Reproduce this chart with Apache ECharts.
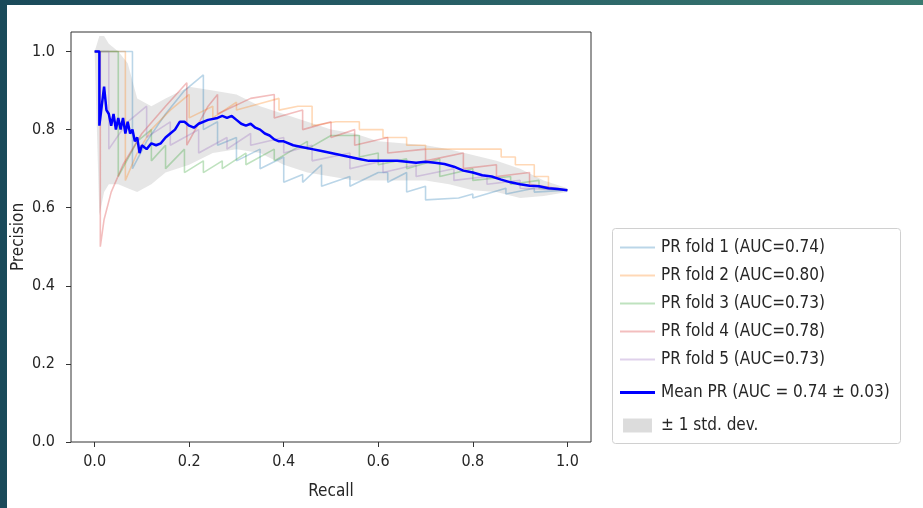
<!DOCTYPE html>
<html>
<head>
<meta charset="utf-8">
<script src="https://cdn.jsdelivr.net/npm/echarts@6/dist/echarts.min.js"></script>
<style>
  html, body { margin: 0; padding: 0; }
  body { width: 923px; height: 508px; position: relative; overflow: hidden;
         background: linear-gradient(90deg, #1a4a5a 0%, #245a64 40%, #3a7a70 100%); }
  #paper { position: absolute; left: 7px; top: 5px; right: 0; bottom: 0; background: #ffffff; }
  #chart { position: absolute; left: 0; top: 0; width: 923px; height: 508px; }
</style>
</head>
<body>
<div id="paper"></div>
<div id="chart"></div>
<script>
// ---- data ----
const xTicks = [0, 0.2, 0.4, 0.6, 0.8, 1.0];
const yTicks = [0, 0.2, 0.4, 0.6, 0.8, 1.0];

const foldNames = [
  'PR fold 1 (AUC=0.74)',
  'PR fold 2 (AUC=0.80)',
  'PR fold 3 (AUC=0.73)',
  'PR fold 4 (AUC=0.78)',
  'PR fold 5 (AUC=0.73)'
];
const meanName = 'Mean PR (AUC = 0.74 ± 0.03)';
const stdName = '± 1 std. dev.';

const fold1Recall = [0,0.08,0.08,0.11,0.15,0.19,0.23,0.23,0.26,0.26,0.30,0.30,0.35,0.35,0.40,0.40,0.44,0.44,0.48,0.48,0.54,0.54,0.60,0.62,0.62,0.66,0.66,0.70,0.70,0.77,0.80,0.80,0.87,0.87,0.93,0.93,1.0];
const fold1Precision = [1,1,0.70,0.77,0.84,0.90,0.94,0.80,0.82,0.76,0.78,0.72,0.75,0.70,0.73,0.665,0.685,0.665,0.71,0.655,0.68,0.655,0.69,0.69,0.665,0.69,0.64,0.655,0.62,0.625,0.635,0.625,0.65,0.635,0.65,0.64,0.645];

const fold2Recall = [0,0.065,0.065,0.09,0.12,0.16,0.20,0.20,0.25,0.25,0.30,0.30,0.36,0.39,0.39,0.43,0.46,0.46,0.51,0.56,0.56,0.61,0.61,0.66,0.66,0.70,0.70,0.78,0.86,0.86,0.89,0.89,0.93,0.93,0.96,0.96,1.0];
const fold2Precision = [1,1,0.67,0.74,0.80,0.85,0.89,0.83,0.86,0.83,0.87,0.85,0.87,0.88,0.85,0.86,0.86,0.81,0.82,0.82,0.80,0.80,0.78,0.78,0.76,0.76,0.75,0.75,0.75,0.73,0.73,0.71,0.71,0.68,0.68,0.65,0.645];

const fold3Recall = [0,0.05,0.05,0.09,0.12,0.12,0.15,0.15,0.19,0.19,0.23,0.23,0.27,0.27,0.32,0.32,0.38,0.38,0.45,0.45,0.50,0.56,0.56,0.60,0.60,0.66,0.66,0.73,0.73,0.80,0.80,0.88,0.88,0.94,0.94,1.0];
const fold3Precision = [1,1,0.68,0.77,0.80,0.72,0.76,0.70,0.75,0.69,0.72,0.69,0.72,0.70,0.74,0.71,0.75,0.72,0.77,0.75,0.785,0.785,0.73,0.74,0.71,0.725,0.70,0.725,0.68,0.70,0.67,0.68,0.66,0.67,0.65,0.645];

const fold4Recall = [0,0.012,0.012,0.02,0.035,0.06,0.10,0.15,0.195,0.195,0.24,0.26,0.26,0.33,0.38,0.38,0.44,0.44,0.50,0.50,0.55,0.55,0.62,0.62,0.70,0.70,0.78,0.78,0.85,0.85,0.92,0.92,1.0];
const fold4Precision = [1,1,0.50,0.57,0.64,0.71,0.79,0.86,0.92,0.76,0.86,0.89,0.84,0.88,0.89,0.83,0.85,0.80,0.82,0.78,0.80,0.76,0.78,0.74,0.75,0.72,0.74,0.70,0.71,0.68,0.69,0.66,0.645];

const fold5Recall = [0,0.03,0.03,0.07,0.11,0.11,0.16,0.16,0.22,0.22,0.28,0.28,0.33,0.33,0.40,0.40,0.46,0.46,0.54,0.54,0.61,0.61,0.68,0.68,0.76,0.76,0.83,0.83,0.90,0.90,1.0];
const fold5Precision = [1,1,0.75,0.82,0.86,0.78,0.82,0.76,0.80,0.74,0.78,0.75,0.79,0.76,0.78,0.74,0.76,0.72,0.74,0.70,0.72,0.69,0.71,0.68,0.70,0.67,0.68,0.66,0.67,0.65,0.645];

const meanRecall = [0,0.01,0.01,0.015,0.02,0.025,0.03,0.035,0.04,0.045,0.05,0.055,0.06,0.065,0.07,0.075,0.08,0.085,0.09,0.095,0.10,0.11,0.12,0.13,0.14,0.15,0.16,0.17,0.18,0.19,0.20,0.21,0.22,0.24,0.26,0.27,0.28,0.29,0.30,0.31,0.32,0.33,0.34,0.35,0.36,0.37,0.38,0.39,0.40,0.42,0.44,0.46,0.48,0.50,0.52,0.54,0.56,0.58,0.60,0.62,0.64,0.66,0.68,0.70,0.72,0.74,0.76,0.78,0.80,0.82,0.84,0.86,0.88,0.90,0.92,0.94,0.96,0.98,1.0];
const meanPrecision = [1.0,1.0,0.81,0.86,0.91,0.85,0.84,0.81,0.84,0.80,0.83,0.80,0.83,0.79,0.82,0.79,0.80,0.77,0.78,0.74,0.76,0.75,0.765,0.76,0.765,0.78,0.79,0.80,0.82,0.82,0.81,0.805,0.815,0.825,0.83,0.835,0.83,0.835,0.825,0.815,0.81,0.815,0.805,0.80,0.79,0.785,0.775,0.77,0.77,0.76,0.755,0.75,0.745,0.74,0.735,0.73,0.725,0.72,0.72,0.72,0.72,0.718,0.715,0.718,0.715,0.712,0.705,0.695,0.69,0.683,0.68,0.672,0.665,0.66,0.656,0.655,0.65,0.648,0.645];

const bandRecall = [0,0.01,0.02,0.03,0.05,0.07,0.09,0.12,0.15,0.20,0.25,0.30,0.35,0.40,0.45,0.50,0.55,0.60,0.65,0.70,0.75,0.80,0.85,0.90,0.95,1.0];
const bandUpper = [1.0,1.04,1.04,1.02,1.0,0.97,0.88,0.86,0.88,0.91,0.90,0.89,0.86,0.84,0.82,0.80,0.79,0.77,0.765,0.76,0.75,0.735,0.72,0.70,0.67,0.65];
const bandLower = [1.0,0.58,0.64,0.66,0.66,0.65,0.64,0.66,0.69,0.71,0.74,0.75,0.74,0.71,0.69,0.68,0.67,0.67,0.67,0.67,0.66,0.645,0.64,0.625,0.63,0.64];

// ---- styling ----
const FONT = "'DejaVu Sans Condensed', 'DejaVu Sans', sans-serif";
const TXT = '#262626';
const foldColors = ['rgba(31,119,180,0.3)','rgba(255,127,14,0.3)','rgba(44,160,44,0.3)','rgba(214,39,40,0.3)','rgba(148,103,189,0.3)'];
const folds = [
  [fold1Recall, fold1Precision],
  [fold2Recall, fold2Precision],
  [fold3Recall, fold3Precision],
  [fold4Recall, fold4Precision],
  [fold5Recall, fold5Precision]
];
const pairs = (xs, ys) => xs.map((x, i) => [x, ys[i]]);

const series = folds.map((f, i) => ({
  name: foldNames[i], type: 'line', data: pairs(f[0], f[1]),
  symbol: 'none', color: foldColors[i],
  lineStyle: { width: 1.6, color: foldColors[i] }, silent: true, animation: false
}));
series.push({
  name: meanName, type: 'line', data: pairs(meanRecall, meanPrecision),
  symbol: 'none', color: '#0000ff', lineStyle: { width: 2.5, color: '#0000ff' }, animation: false
});
series.push({
  name: stdName, type: 'custom', coordinateSystem: 'cartesian2d',
  data: [[0, 0]], silent: true, animation: false, color: '#dcdcdc',
  renderItem: function (params, api) {
    const pts = bandRecall.map((x, i) => api.coord([x, bandUpper[i]]));
    for (let i = bandRecall.length - 1; i >= 0; i--) {
      pts.push(api.coord([bandRecall[i], bandLower[i]]));
    }
    return { type: 'polygon', shape: { points: pts }, style: { fill: 'rgba(128,128,128,0.2)' } };
  }
});

const lineIcon = 'path://M0,0 L35,0 L35,2 L0,2 Z';
const meanIcon = 'path://M0,0 L35,0 L35,3 L0,3 Z';
const rectIcon = 'path://M0,0 L31,0 L31,15 L0,15 Z';
const legendText = { fontFamily: FONT, fontSize: 17, color: TXT, padding: [0, 0, 0, 1] };

const option = {
  animation: false,
  backgroundColor: 'transparent',
  textStyle: { fontFamily: FONT },
  grid: { left: 71, right: 332, top: 32, bottom: 66, show: true, borderColor: '#333', borderWidth: 1,
          backgroundColor: 'transparent', containLabel: false, outerBoundsMode: 'none' },
  xAxis: {
    type: 'value', min: -0.05, max: 1.05,
    name: 'Recall', nameLocation: 'middle', nameGap: 41, nameMoveOverlap: false,
    nameTextStyle: { fontFamily: FONT, fontSize: 17, color: TXT },
    axisLine: { show: false, onZero: false },
    splitLine: { show: false },
    axisTick: { show: true, length: 5, customValues: xTicks, lineStyle: { color: '#333' } },
    axisLabel: { customValues: xTicks, margin: 12, fontFamily: FONT, fontSize: 16, color: TXT,
                 formatter: v => Number(v).toFixed(1) }
  },
  yAxis: {
    type: 'value', min: 0, max: 1.05,
    name: 'Precision', nameLocation: 'middle', nameGap: 44, nameRotate: 90, nameMoveOverlap: false,
    nameTextStyle: { fontFamily: FONT, fontSize: 17, color: TXT },
    axisLine: { show: false, onZero: false },
    splitLine: { show: false },
    axisTick: { show: true, length: 5, customValues: yTicks, lineStyle: { color: '#333' } },
    axisLabel: { customValues: yTicks, margin: 16, fontFamily: FONT, fontSize: 16, color: TXT,
                 formatter: v => Number(v).toFixed(1) }
  },
  graphic: [{
    type: 'rect', left: 612, top: 228, z: 0,
    shape: { width: 288, height: 215, r: 3 },
    style: { fill: '#ffffff', stroke: '#d0d0d0', lineWidth: 1 }
  }],
  legend: [
    {
      orient: 'vertical', left: 615, top: 234, itemWidth: 35, itemHeight: 14, itemGap: 11,
      selectedMode: false, textStyle: legendText, itemStyle: { borderWidth: 0 },
      data: foldNames.map((n, i) => ({ name: n, icon: lineIcon, itemStyle: { color: foldColors[i], borderWidth: 0 } }))
    },
    {
      orient: 'vertical', left: 615, top: 379, itemWidth: 35, itemHeight: 14, itemGap: 16,
      selectedMode: false, textStyle: legendText, itemStyle: { borderWidth: 0 },
      data: [
        { name: meanName, icon: meanIcon, itemStyle: { color: '#0000ff', borderWidth: 0 } },
        { name: stdName, icon: rectIcon, itemStyle: { color: '#dcdcdc', borderWidth: 0 } }
      ]
    }
  ],
  series: series
};

const chart = echarts.init(document.getElementById('chart'), null, { renderer: 'canvas' });
chart.setOption(option);
</script>
</body>
</html>
